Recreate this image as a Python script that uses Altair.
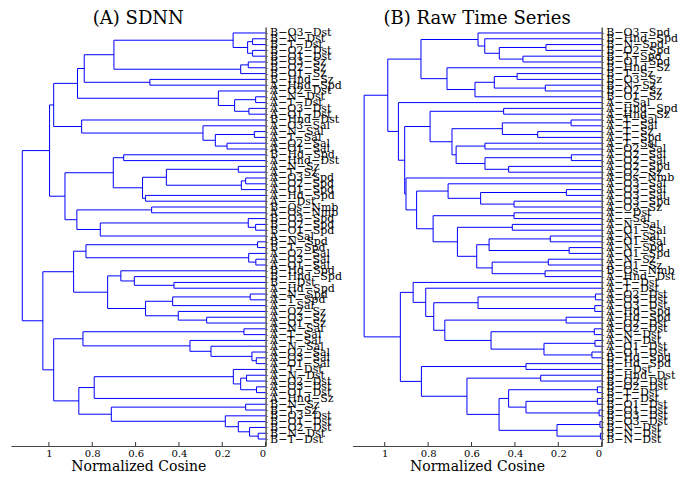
import altair as alt
import pandas as pd

M = "\u2212"

left_labels = [
    "B-O3-Dst", "B-N-Dst", "B-T-Dst", "B-O2-Dst", "B-O1-Dst", "B-O3-Sz", "B-O2-Sz", "B-O1-Sz",
    "B-Hnd-Sz", "A-Hnd-Spd", "A-O2-Dst", "A-N-Dst", "A-T-Dst", "A-O3-Dst", "A-O1-Dst", "B-Hnd-Dst",
    "A-O3-Sal", "A-N-Sal", "A-T-Sal", "A-O2-Sal", "A-O1-Sal", "B-Hd-Spd", "A-Hnd-Dst", "A-N-Sz",
    "A-T-Sz", "A-O3-Spd", "A-O2-Spd", "A-O1-Spd", "A-Hd-Spd", "A--Dst", "B-Os-Nmb", "A-Os-Nmb",
    "B-O3-Spd", "B-O2-Spd", "B-O1-Spd", "A--Sal", "B-N-Spd", "B-T-Spd", "A-O2-Sal", "A-O3-Sal",
    "A-O1-Sal", "B-Hd-Spd", "B-Hnd-Spd", "B--Dst", "A-Hd-Spd", "A-N-Spd", "A-T-Spd", "A--Sal",
    "A-O2-Sz", "A-O3-Sz", "A-O1-Sz", "A-N-Sal", "A-T-Sal", "A-T-Sal", "A-N-Sal", "A-O2-Sal",
    "A-O3-Sal", "A-O1-Sal", "A-T-Dst", "A-N-Dst", "A-O2-Dst", "A-O3-Dst", "A-O1-Dst", "A-Hnd-Sz",
    "B-N-Sz", "B-T-Sz", "B-O3-Dst", "B-O1-Dst", "B-O2-Dst", "B-N-Dst", "B-T-Dst",
]

right_labels = [
    "B-O3-Spd", "B-Hnd-Spd", "B-N-Spd", "B-O2-Spd", "B-T-Spd", "B-O1-Spd", "B-Hnd-Sz", "B-T-Sz",
    "B-O3-Sz", "B-N-Sz", "B-O2-Sz", "B-O1-Sz", "A--Sal", "A-Hnd-Spd", "A-Hnd-Sz", "A-T-Sal",
    "A-T-Sal", "A-T-Sz", "A-T-Spd", "A-T-Sal", "A-O2-Sal", "A-O2-Sal", "A-O2-Sal", "A-O2-Spd",
    "A-O2-Sz", "A-Os-Nmb", "A-O3-Sal", "A-O3-Sal", "A-O3-Sal", "A-O3-Spd", "A-O3-Sz", "A--Dst",
    "A--Sal", "A-N-Sal", "A-O1-Sal", "A-N-Sal", "A-O1-Sal", "A-N-Spd", "A-O1-Spd", "A-N-Sz",
    "A-O1-Sz", "B-Os-Nmb", "A-Hnd-Dst", "A-T-Dst", "A-T-Dst", "A-O2-Dst", "A-O3-Dst", "A-O3-Dst",
    "A-Hd-Spd", "A-Hd-Spd", "A-O2-Dst", "A-O2-Dst", "A-N-Dst", "A-N-Dst", "A-O1-Dst", "A-O1-Dst",
    "B-Hd-Spd", "B-Hd-Spd", "B--Dst", "B-Hnd-Dst", "B-O2-Dst", "B-O2-Dst", "B-T-Dst", "B-T-Dst",
    "B-O1-Dst", "B-O1-Dst", "B-O3-Dst", "B-O3-Dst", "B-N-Dst", "B-N-Dst", "B-N-Dst",
]

# merges: (first leaf, last leaf, height) of every cluster
left_merges = [
    (1, 2, 0.06), (3, 4, 0.06), (1, 4, 0.083), (0, 4, 0.15), (5, 6, 0.08), (5, 7, 0.115),
    (0, 7, 0.70), (8, 9, 0.534), (0, 9, 0.837), (11, 12, 0.046), (13, 14, 0.077), (11, 14, 0.143),
    (10, 14, 0.218), (0, 14, 0.868), (17, 18, 0.052), (19, 20, 0.178), (17, 20, 0.232),
    (16, 20, 0.289), (15, 20, 0.849), (0, 20, 0.978), (21, 22, 0.655), (23, 24, 0.126),
    (25, 26, 0.092), (25, 27, 0.112), (23, 27, 0.458), (28, 29, 0.554), (23, 29, 0.568),
    (21, 29, 0.703), (30, 31, 0.526), (33, 34, 0.046), (32, 34, 0.08), (32, 35, 0.763),
    (30, 35, 0.871), (21, 35, 0.926), (0, 35, 0.997), (36, 37, 0.037), (39, 40, 0.045),
    (38, 40, 0.078), (36, 40, 0.829), (43, 44, 0.423), (42, 44, 0.606), (41, 44, 0.668),
    (45, 46, 0.071), (45, 47, 0.429), (49, 50, 0.272), (48, 50, 0.403), (45, 50, 0.554),
    (41, 50, 0.729), (36, 50, 0.886), (51, 52, 0.10), (56, 57, 0.043), (55, 57, 0.063),
    (54, 57, 0.252), (53, 57, 0.349), (51, 57, 0.843), (59, 60, 0.088), (61, 62, 0.042),
    (59, 62, 0.115), (58, 62, 0.149), (58, 63, 0.791), (64, 65, 0.092), (69, 70, 0.034),
    (68, 70, 0.074), (67, 70, 0.126), (66, 70, 0.186), (64, 70, 0.712), (58, 70, 0.862),
    (51, 70, 0.978), (36, 70, 1.028), (0, 70, 1.123),
]

right_merges = [
    (2, 3, 0.257), (4, 5, 0.363), (2, 5, 0.472), (1, 5, 0.539), (0, 5, 0.570), (7, 8, 0.39),
    (9, 10, 0.26), (7, 10, 0.495), (7, 11, 0.584), (6, 11, 0.713), (0, 11, 0.833),
    (13, 14, 0.452), (15, 16, 0.141), (17, 18, 0.295), (15, 18, 0.458), (19, 20, 0.538),
    (21, 22, 0.14), (23, 24, 0.429), (21, 24, 0.538), (19, 24, 0.671), (15, 24, 0.690),
    (13, 24, 0.791), (27, 28, 0.163), (29, 30, 0.404), (27, 30, 0.558), (26, 30, 0.708),
    (31, 32, 0.404), (33, 34, 0.412), (35, 36, 0.237), (37, 38, 0.15), (35, 38, 0.519),
    (39, 40, 0.246), (41, 42, 0.261), (39, 42, 0.505), (35, 42, 0.576), (33, 42, 0.665),
    (31, 42, 0.777), (26, 42, 0.853), (25, 42, 0.902), (13, 42, 0.908), (12, 42, 0.937),
    (0, 42, 0.986), (45, 46, 0.029), (47, 48, 0.032), (45, 48, 0.570), (49, 50, 0.164),
    (51, 52, 0.034), (53, 54, 0.031), (55, 56, 0.045), (53, 56, 0.266), (51, 56, 0.51),
    (49, 56, 0.723), (45, 56, 0.774), (44, 56, 0.811), (43, 56, 0.869), (57, 58, 0.349),
    (59, 60, 0.281), (61, 62, 0.02), (63, 64, 0.02), (65, 66, 0.012), (63, 66, 0.349),
    (61, 66, 0.429), (67, 68, 0.008), (69, 70, 0.006), (67, 70, 0.206), (61, 70, 0.473),
    (59, 70, 0.621), (57, 70, 0.831), (43, 70, 0.928), (0, 70, 1.095),
]

x_ticks = [1, 0.8, 0.6, 0.4, 0.2, 0]

SERIF = "DejaVu Serif"
BLUE = "#0000ff"


def segments(merges, n):
    info = {(i, i): (float(i), 0.0) for i in range(n)}
    rows = []
    for s, e, h in sorted(merges, key=lambda t: t[1] - t[0]):
        cands = [k for k in info if k[0] == s and k[1] < e]
        left = max(cands, key=lambda k: k[1])
        right = (left[1] + 1, e)
        yl, hl = info[left]
        yr, hr = info[right]
        rows.append(dict(x=h, x2=h, y=yl, y2=yr))
        rows.append(dict(x=hl, x2=h, y=yl, y2=yl))
        rows.append(dict(x=hr, x2=h, y=yr, y2=yr))
        info[(s, e)] = ((yl + yr) / 2, h)
    return pd.DataFrame(rows)


def panel(title, labels, merges, xmax, width, height):
    labs = [l.replace("-", M) for l in labels]
    n = len(labs)
    expr = "[" + ",".join("'" + l + "'" for l in labs) + "][datum.value]"
    df = segments(merges, n)
    xscale = alt.Scale(domain=[0, xmax], reverse=True, nice=False, zero=True)
    yscale = alt.Scale(domain=[-1.03, 71.2], reverse=True, nice=False, zero=False)
    xaxis = alt.Axis(values=x_ticks, format="~g", title="Normalized Cosine",
                     tickSize=0, labelPadding=2, titlePadding=1,
                     labelFont=SERIF, labelFontSize=10, labelColor="black",
                     titleFont=SERIF, titleFontSize=14, titleFontWeight="normal",
                     titleColor="black", domainColor="#444", domainWidth=1, grid=False)
    lines = alt.Chart(df).mark_rule(color=BLUE, strokeWidth=1).encode(
        x=alt.X("x:Q", scale=xscale, axis=xaxis),
        x2="x2:Q",
        y=alt.Y("y:Q", scale=yscale,
                axis=alt.Axis(orient="right", values=list(range(n)), labelExpr=expr,
                              labelOverlap=False, labelBound=False, labelFlush=False,
                              labelFont=SERIF, labelFontSize=11, labelColor="black",
                              labelPadding=2, tickSize=2, tickColor="#888",
                              domainColor="#555", domainWidth=1.5, grid=False, title=None)),
        y2="y2:Q",
    )
    ticks = alt.Chart(pd.DataFrame({"x": x_ticks})).mark_rule(color="#333").encode(
        x=alt.X("x:Q", scale=xscale, axis=xaxis),
        y=alt.value(height),
        y2=alt.value(height - 4),
    )
    return alt.layer(lines, ticks).properties(
        width=width, height=height,
        title=alt.TitleParams(title, font=SERIF, fontSize=18, fontWeight="normal",
                              anchor="middle", offset=-2, dy=-1, color="black"),
    )


left = panel("(A) SDNN", left_labels, left_merges, 1.175, 254.6, 419)
right = panel("(B) Raw Time Series", right_labels, right_merges, 1.149, 249.3, 419)

chart = alt.hconcat(left, right, spacing=86.4, bounds="flush").properties(
    padding={"left": 3, "top": 1, "right": 0, "bottom": 0}
).configure_view(stroke=None)

chart.save("out.html", embed_options={"renderer": "svg", "actions": False})
